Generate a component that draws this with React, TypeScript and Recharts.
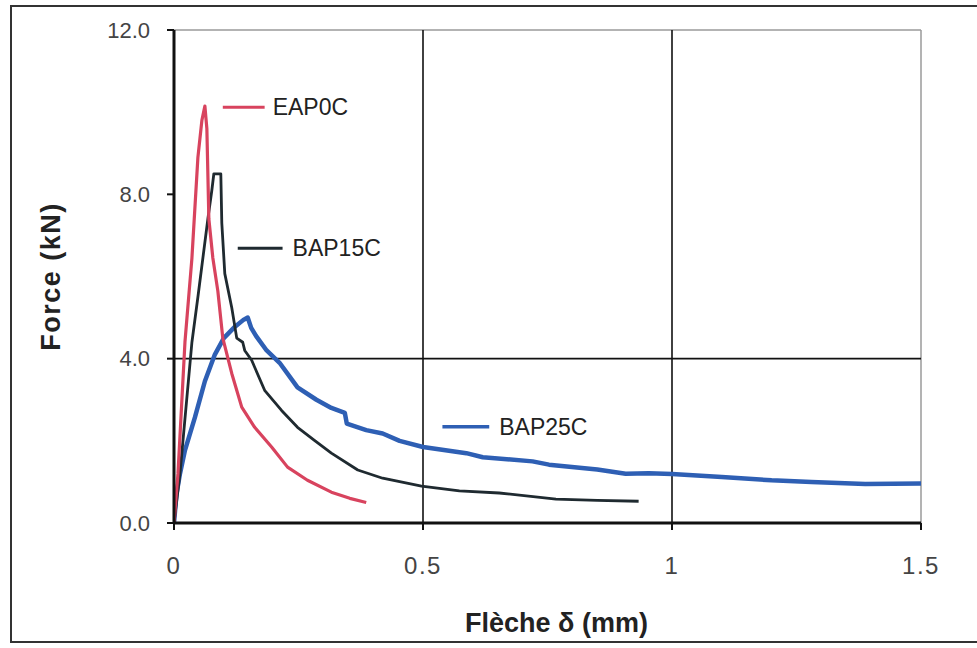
import React from 'react';
import { LineChart, Line, XAxis, YAxis, ReferenceLine } from 'recharts';

// Flèche (mm) / Force (kN)
const eapX = [0, 0.008, 0.022, 0.036, 0.048, 0.056, 0.062, 0.066, 0.07, 0.078, 0.088, 0.098, 0.116, 0.136, 0.162, 0.196, 0.228, 0.268, 0.316, 0.353, 0.386];
const eapY = [0, 1.2, 4.4, 6.45, 8.9, 9.8, 10.15, 9.6, 7.4, 6.45, 5.65, 4.5, 3.64, 2.82, 2.33, 1.85, 1.36, 1.04, 0.75, 0.6, 0.5];

const bap15X = [0, 0.012, 0.036, 0.048, 0.068, 0.076, 0.08, 0.094, 0.096, 0.102, 0.116, 0.126, 0.138, 0.142, 0.156, 0.182, 0.216, 0.248, 0.282, 0.316, 0.369, 0.419, 0.497, 0.573, 0.653, 0.767, 0.85, 0.933];
const bap15Y = [0, 1.2, 4.4, 5.5, 7.4, 8.1, 8.5, 8.5, 7.3, 6.07, 5.24, 4.5, 4.4, 4.2, 3.96, 3.23, 2.74, 2.33, 2.01, 1.7, 1.29, 1.09, 0.9, 0.78, 0.73, 0.58, 0.55, 0.53];

const bap25X = [0, 0.005, 0.012, 0.022, 0.042, 0.062, 0.082, 0.1, 0.12, 0.14, 0.148, 0.155, 0.165, 0.186, 0.212, 0.248, 0.286, 0.316, 0.343, 0.347, 0.386, 0.419, 0.453, 0.5, 0.587, 0.62, 0.72, 0.753, 0.85, 0.907, 0.953, 1.0, 1.1, 1.2, 1.28, 1.388, 1.5];
const bap25Y = [0, 0.7, 1.2, 1.77, 2.57, 3.45, 4.1, 4.5, 4.75, 4.95, 5.0, 4.75, 4.55, 4.2, 3.9, 3.3, 3.0, 2.8, 2.68, 2.42, 2.26, 2.18, 2.0, 1.85, 1.7, 1.6, 1.5, 1.42, 1.3, 1.2, 1.21, 1.19, 1.12, 1.04, 1.0, 0.95, 0.96];

const xTicks = [0, 0.5, 1, 1.5];
const yTicks = [0, 4, 8, 12];
const seriesNames = ['EAP0C', 'BAP15C', 'BAP25C'];
const xTitle = 'Flèche δ (mm)';
const yTitle = 'Force (kN)';

const toPts = (xs: number[], ys: number[]) => xs.map((x, i) => ({ x, y: ys[i] }));
const eapData = toPts(eapX, eapY);
const bap15Data = toPts(bap15X, bap15Y);
const bap25Data = toPts(bap25X, bap25Y);

const FONT = '"Liberation Sans", Arial, sans-serif';
const RED = '#d8435e';
const BLACK = '#1f2a30';
const BLUE = '#2e5fb4';

const YTitle = (props: any) => {
  const vb = props.viewBox;
  const cx = vb.x + 51;
  const cy = vb.y + vb.height / 2;
  return (
    <text x={cx} y={cy} transform={`rotate(-90 ${cx} ${cy})`} textAnchor="middle" dominantBaseline="central"
      fontFamily={FONT} fontWeight="bold" fontSize={27} letterSpacing={1.5} fill="#222">{yTitle}</text>
  );
};

const XTitle = (props: any) => {
  const vb = props.viewBox;
  const cx = vb.x + vb.width / 2 + 9;
  return (
    <text x={cx} y={vb.y + 109} textAnchor="middle" fontFamily={FONT} fontWeight="bold" fontSize={27} fill="#222">{xTitle}</text>
  );
};

const tagLabel = (value: string, offset: number) => ({
  value, position: 'right' as const, offset, fill: '#222', fontSize: 23, fontFamily: FONT,
});

export default function App() {
  return (
    <div style={{ position: 'absolute', left: 0, top: 0, width: 977, height: 648, background: '#fff' }}>
      <div style={{ position: 'absolute', left: 10, top: 5, width: 967, height: 638, boxSizing: 'border-box',
        borderLeft: '2px solid #333', borderTop: '2px solid #333', borderBottom: '2px solid #333' }} />
      <div style={{ position: 'absolute', left: 0, top: 0 }}>
        <LineChart width={977} height={648} margin={{ top: 30, right: 56, bottom: 0, left: 0 }}>
          <XAxis type="number" dataKey="x" domain={[0, 1.5]} ticks={xTicks} allowDataOverflow
            height={125} axisLine={{ stroke: '#111', strokeWidth: 3 }} tickLine={{ stroke: '#111', strokeWidth: 2 }}
            tickSize={7} tickMargin={27} tick={{ fill: '#444', fontSize: 24, fontFamily: FONT, letterSpacing: 1.5 }}
            label={<XTitle />} />
          <YAxis type="number" dataKey="y" domain={[0, 12]} ticks={yTicks} allowDataOverflow
            width={174} axisLine={{ stroke: '#111', strokeWidth: 3 }} tickLine={{ stroke: '#111', strokeWidth: 2 }}
            tickSize={7} tickMargin={17} tickFormatter={(v: number) => v.toFixed(1)}
            tick={{ fill: '#444', fontSize: 22, fontFamily: FONT }} label={<YTitle />} />
          <ReferenceLine y={12} stroke="#9a9a9a" strokeWidth={1.5} />
          <ReferenceLine x={1.5} stroke="#9a9a9a" strokeWidth={1.5} />
          <ReferenceLine x={0.5} stroke="#111" strokeWidth={1.6} />
          <ReferenceLine x={1} stroke="#111" strokeWidth={1.6} />
          <ReferenceLine y={4} stroke="#111" strokeWidth={1.6} />
          <Line data={bap25Data} dataKey="y" name={seriesNames[2]} stroke={BLUE} strokeWidth={4.5} dot={false}
            isAnimationActive={false} strokeLinejoin="round" />
          <Line data={bap15Data} dataKey="y" name={seriesNames[1]} stroke={BLACK} strokeWidth={2.8} dot={false}
            isAnimationActive={false} strokeLinejoin="round" />
          <Line data={eapData} dataKey="y" name={seriesNames[0]} stroke={RED} strokeWidth={3.2} dot={false}
            isAnimationActive={false} strokeLinejoin="round" />
          <ReferenceLine segment={[{ x: 0.098, y: 10.12 }, { x: 0.182, y: 10.12 }]} stroke={RED} strokeWidth={3}
            label={tagLabel(seriesNames[0], 8)} />
          <ReferenceLine segment={[{ x: 0.128, y: 6.69 }, { x: 0.218, y: 6.69 }]} stroke={BLACK} strokeWidth={3}
            label={tagLabel(seriesNames[1], 10)} />
          <ReferenceLine segment={[{ x: 0.539, y: 2.34 }, { x: 0.633, y: 2.34 }]} stroke={BLUE} strokeWidth={3.5}
            label={tagLabel(seriesNames[2], 10)} />
        </LineChart>
      </div>
    </div>
  );
}
